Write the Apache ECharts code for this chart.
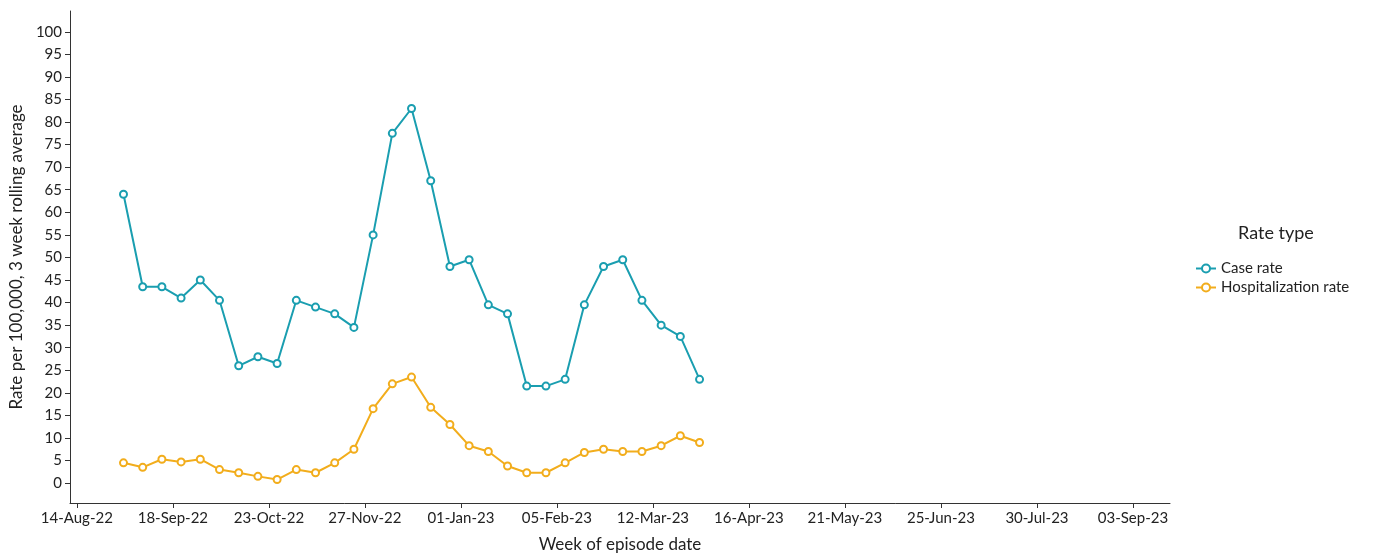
<!DOCTYPE html>
<html>
<head>
<meta charset="UTF-8">
<style>
  body, html { width: 100%; height: 100%; margin: 0; padding: 0; background: #fff; }
  #myChart { width: 1382px; height: 558px; }
</style>
<script src="https://cdn.jsdelivr.net/npm/echarts@6/dist/echarts.min.js"></script>
</head>
<body>
<div id="myChart"></div>
<script>
// 数据
let firstWeek = '2022-08-31';
let caseRate = [64, 43.5, 43.5, 41, 45, 40.5, 26, 28, 26.5, 40.5, 39, 37.5, 34.5, 55, 77.5, 83, 67, 48, 49.5, 39.5, 37.5, 21.5, 21.5, 23, 39.5, 48, 49.5, 40.5, 35, 32.5, 23];
let hospRate = [4.5, 3.5, 5.3, 4.7, 5.3, 3, 2.3, 1.5, 0.8, 3, 2.3, 4.5, 7.5, 16.5, 22, 23.5, 16.8, 13, 8.3, 7, 3.8, 2.3, 2.3, 4.5, 6.8, 7.5, 7, 7, 8.3, 10.5, 9];
let tickDates = ['2022-08-14', '2022-09-18', '2022-10-23', '2022-11-27', '2023-01-01', '2023-02-05', '2023-03-12', '2023-04-16', '2023-05-21', '2023-06-25', '2023-07-30', '2023-09-03'];
let yTicks = [0, 5, 10, 15, 20, 25, 30, 35, 40, 45, 50, 55, 60, 65, 70, 75, 80, 85, 90, 95, 100];

const DAY = 86400000;
const t0 = Date.parse(firstWeek + 'T00:00:00Z');
const pts = arr => arr.map((v, i) => [t0 + i * 7 * DAY, v]);
const months = ['Jan','Feb','Mar','Apr','May','Jun','Jul','Aug','Sep','Oct','Nov','Dec'];
const fmt = t => {
  let d = new Date(t);
  return String(d.getUTCDate()).padStart(2, '0') + '-' + months[d.getUTCMonth()] + '-' + String(d.getUTCFullYear()).slice(2);
};
const xTicks = tickDates.map(s => Date.parse(s + 'T00:00:00Z'));
const tMin = xTicks[0] - 2.5 * DAY;
const tMax = xTicks[xTicks.length - 1] + 13.5 * DAY;

let myEcharts = echarts.init(document.querySelector('#myChart'));
let font = 'Lato, "Open Sans", sans-serif';
let option = {
  animation: false,
  textStyle: { fontFamily: font },
  grid: { left: 68, right: 212, top: 11, bottom: 48 },
  legend: {
    orient: 'vertical', left: 1190, top: 256, itemGap: 4,
    itemWidth: 20, itemHeight: 10,
    textStyle: { fontSize: 15, color: '#222', fontFamily: font },
    data: ['Case rate', 'Hospitalization rate']
  },
  graphic: [{ type: 'text', left: 1238, top: 224, style: { text: 'Rate type', fontSize: 18, fill: '#222', fontFamily: font } }],
  xAxis: {
    type: 'value', min: tMin, max: tMax,
    name: 'Week of episode date', nameLocation: 'middle', nameGap: 33,
    nameTextStyle: { fontSize: 17, color: '#222' },
    axisLine: { onZero: false, lineStyle: { color: '#333' } },
    axisTick: { customValues: xTicks, lineStyle: { color: '#333' } },
    axisLabel: { customValues: xTicks, formatter: fmt, fontSize: 15, color: '#222' },
    splitLine: { show: false }
  },
  yAxis: {
    type: 'value', min: -4.4, max: 104.6,
    name: 'Rate per 100,000, 3 week rolling average', nameLocation: 'middle', nameGap: 45,
    nameTextStyle: { fontSize: 17, color: '#222' },
    axisLine: { show: true, lineStyle: { color: '#333' } },
    axisTick: { show: true, customValues: yTicks, lineStyle: { color: '#333' } },
    axisLabel: { customValues: yTicks, fontSize: 15, color: '#222' },
    splitLine: { show: false }
  },
  series: [
    { name: 'Case rate', type: 'line', data: pts(caseRate), color: '#1a9eb0',
      symbol: 'emptyCircle', symbolSize: 7, lineStyle: { width: 2 } },
    { name: 'Hospitalization rate', type: 'line', data: pts(hospRate), color: '#f2ad1c',
      symbol: 'emptyCircle', symbolSize: 7, lineStyle: { width: 2 } }
  ]
};
myEcharts.setOption(option, true);
</script>
</body>
</html>
